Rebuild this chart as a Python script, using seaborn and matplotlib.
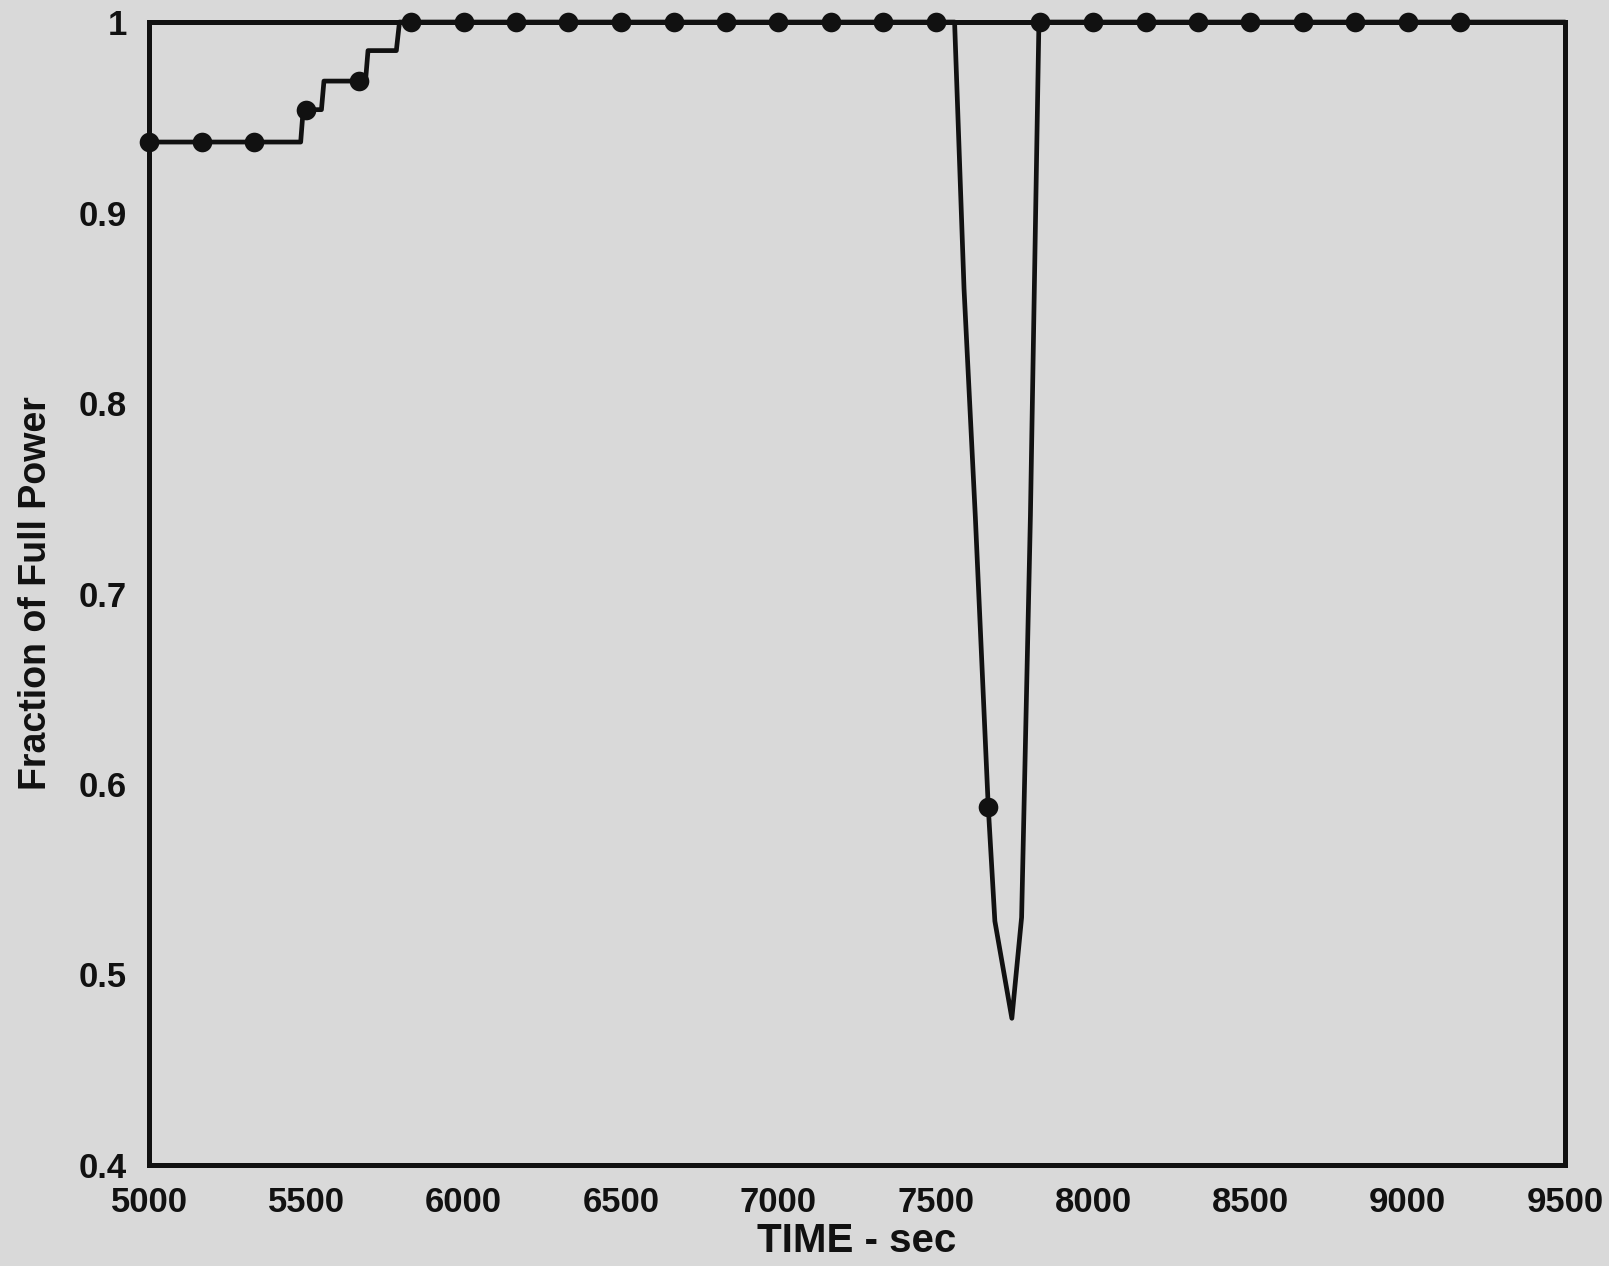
import matplotlib
matplotlib.use("Agg")
import matplotlib.pyplot as plt
import seaborn as sns
import pandas as pd

# ---- data ----
# Series 1: power fraction (with step increases and a dip)
power_time = [5000, 5482, 5490, 5548, 5556, 5688, 5696, 5786, 5796,
              7560, 7590, 7626, 7667, 7688, 7742, 7773, 7801, 7828, 9500]
power_value = [0.937, 0.937, 0.954, 0.954, 0.969, 0.969, 0.985, 0.985, 1.0,
               1.0, 0.86, 0.74, 0.588, 0.528, 0.477, 0.53, 0.741, 1.0, 1.0]

# Markers on series 1
marker_time = [5000, 5167, 5333, 5500, 5667, 5833, 6000, 6167, 6333, 6500,
               6667, 6833, 7000, 7167, 7333, 7500, 7667, 7833, 8000, 8167,
               8333, 8500, 8667, 8833, 9000, 9167]
marker_value = [0.937, 0.937, 0.937, 0.954, 0.969, 1.0, 1.0, 1.0, 1.0, 1.0,
                1.0, 1.0, 1.0, 1.0, 1.0, 1.0, 0.588, 1.0, 1.0, 1.0,
                1.0, 1.0, 1.0, 1.0, 1.0, 1.0]

# Series 2: reference (full power)
ref_time = [5000, 9500]
ref_value = [1.0, 1.0]

x_ticks = [5000, 5500, 6000, 6500, 7000, 7500, 8000, 8500, 9000, 9500]
y_ticks = [0.4, 0.5, 0.6, 0.7, 0.8, 0.9, 1.0]
y_ticklabels = ["0.4", "0.5", "0.6", "0.7", "0.8", "0.9", "1"]

# ---- style ----
bg = "#d9d9d9"
ink = "#111111"
sns.set_style("white")
plt.rcParams["font.family"] = ["Liberation Sans", "DejaVu Sans"]

fig = plt.figure(figsize=(16.09, 12.66), dpi=100, facecolor=bg)
ax = fig.add_axes([0.0926, 0.0798, 0.8801, 0.9028])
ax.set_facecolor(bg)

df_power = pd.DataFrame({"t": power_time, "v": power_value})
df_mark = pd.DataFrame({"t": marker_time, "v": marker_value})
df_ref = pd.DataFrame({"t": ref_time, "v": ref_value})

sns.lineplot(data=df_ref, x="t", y="v", ax=ax, color=ink, linewidth=3.6,
             sort=False, estimator=None, clip_on=False)
sns.lineplot(data=df_power, x="t", y="v", ax=ax, color=ink, linewidth=3.4,
             sort=False, estimator=None, clip_on=False)
sns.scatterplot(data=df_mark, x="t", y="v", ax=ax, color=ink, s=200,
                marker="o", linewidth=0, clip_on=False, zorder=5)

ax.set_xlim(5000, 9500)
ax.set_ylim(0.4, 1.0)
ax.set_xticks(x_ticks)
ax.set_xticklabels([str(t) for t in x_ticks])
ax.set_yticks(y_ticks)
ax.set_yticklabels(y_ticklabels)

for s in ax.spines.values():
    s.set_visible(True)
    s.set_color(ink)
    s.set_linewidth(3.6)

ax.tick_params(axis="both", which="major", direction="out", length=7,
               width=1.6, color=ink, labelsize=25, labelcolor=ink)
ax.tick_params(axis="x", pad=8)
ax.tick_params(axis="y", pad=9)
for lab in ax.get_xticklabels() + ax.get_yticklabels():
    lab.set_fontweight("bold")

ax.set_xlabel("TIME - sec", fontsize=29, fontweight="bold", color=ink,
              labelpad=2)
ax.set_ylabel("Fraction of Full Power", fontsize=27, fontweight="bold",
              color=ink, labelpad=18)

fig.savefig("out.png", dpi=100, facecolor=bg)
